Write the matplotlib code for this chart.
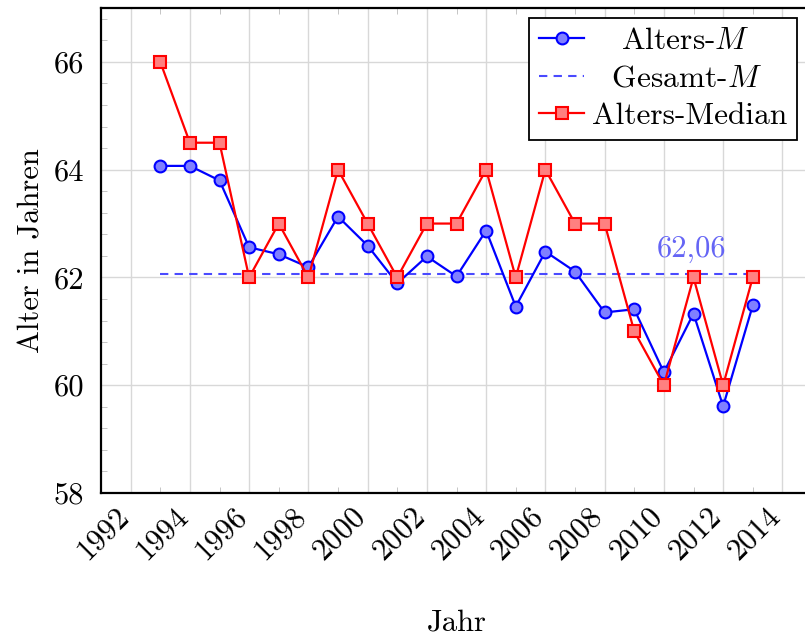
import matplotlib
matplotlib.use("Agg")
import matplotlib.pyplot as plt
from matplotlib.ticker import MultipleLocator
from matplotlib.transforms import ScaledTranslation

plt.rcParams['font.family'] = ['cmr10', 'DejaVu Serif']
plt.rcParams['mathtext.fontset'] = 'cm'
plt.rcParams['axes.formatter.use_mathtext'] = True

years = list(range(1993, 2014))
alter_mittel = [64.07, 64.07, 63.80, 62.56, 62.43, 62.19, 63.13, 62.59, 61.89, 62.39,
                62.02, 62.87, 61.46, 62.48, 62.11, 61.35, 61.41, 60.24, 61.33, 59.61, 61.48]
alter_median = [66, 64.5, 64.5, 62, 63, 62, 64, 63, 62, 63,
                63, 64, 62, 64, 63, 63, 61, 60, 62, 60, 62]
gesamt_mittel = 62.06
gesamt_label = "62,06"
labels = ['Alters-$M$', 'Gesamt-$M$', 'Alters-Median']
x_ticks = list(range(1992, 2015, 2))
y_ticks = [58, 60, 62, 64, 66]

FS = 22
LFS = 22.6
DPI = 100
fig = plt.figure(figsize=(8.05, 6.37), dpi=DPI)
ax = fig.add_axes([101/805, 1-493/637, (812-101)/805, (493-8)/637])

ax.plot(years, alter_mittel, '-o', color='blue', lw=1.6, ms=8.5,
        mfc='#8080ff', mec='blue', mew=1.5, label=labels[0], zorder=4)
ax.plot([years[0], years[-1]], [gesamt_mittel, gesamt_mittel], '--', color='#4a4aff',
        lw=1.5, dashes=(4, 3), label=labels[1], zorder=3)
ax.plot(years, alter_median, '-s', color='red', lw=1.6, ms=8.5,
        mfc='#ff8080', mec='red', mew=1.5, label=labels[2], zorder=5)

ax.text(2010.95, gesamt_mittel + 0.2, gesamt_label, color='#6565f5', fontsize=FS,
        ha='center', va='bottom')

ax.set_xlim(1991, 2015)
ax.set_ylim(58, 67)
ax.set_xticks(x_ticks)
ax.set_yticks(y_ticks)
ax.xaxis.set_minor_locator(MultipleLocator(1))
ax.yaxis.set_minor_locator(MultipleLocator(0.4))
ax.tick_params(which='major', length=0)
ax.tick_params(axis='y', which='major', pad=12)
ax.tick_params(axis='x', which='major', pad=5)
ax.tick_params(which='minor', direction='in', length=4, color='#bbbbbb',
               top=True, right=False)
ax.set_xticklabels([str(t) for t in x_ticks], rotation=45, ha='right',
                   rotation_mode='anchor', fontsize=FS)
ax.set_yticklabels([str(t) for t in y_ticks], fontsize=FS)
shift = ScaledTranslation(-0.16, -0.02, fig.dpi_scale_trans)
for lbl in ax.get_xticklabels():
    lbl.set_transform(lbl.get_transform() + shift)
ax.grid(True, which='major', color='#d8d8d8', lw=1.0, zorder=0)
ax.set_axisbelow(True)

for s in ['left', 'top', 'bottom']:
    ax.spines[s].set_linewidth(1.6)
ax.spines['right'].set_visible(False)

ax.set_xlabel('Jahr', fontsize=FS, labelpad=32)
ax.set_ylabel('Alter in Jahren', fontsize=FS, labelpad=6)

# measure label widths to center legend texts
renderer = fig.canvas.get_renderer()
widths = []
for lab in labels:
    t = fig.text(0, 0, lab, fontsize=LFS)
    widths.append(t.get_window_extent(renderer).width)
    t.remove()
wmax = max(widths)
em = LFS * DPI / 72.0
handles, _ = ax.get_legend_handles_labels()
padded = []
for lab, w in zip(labels, widths):
    pad = (wmax - w) / 2.0 / em
    padded.append((r'$\hspace{%.3f}$' % pad + lab) if pad > 0.01 else lab)

leg = ax.legend(handles, padded, loc='upper right',
                bbox_to_anchor=((797-101)/711, 1-10/485),
                fontsize=LFS, fancybox=False, edgecolor='black', framealpha=1,
                handlelength=1.45, borderpad=0.3, labelspacing=0.3, handletextpad=0.25,
                borderaxespad=0)
leg.get_frame().set_linewidth(1.3)

fig.savefig('out.png', dpi=DPI)
